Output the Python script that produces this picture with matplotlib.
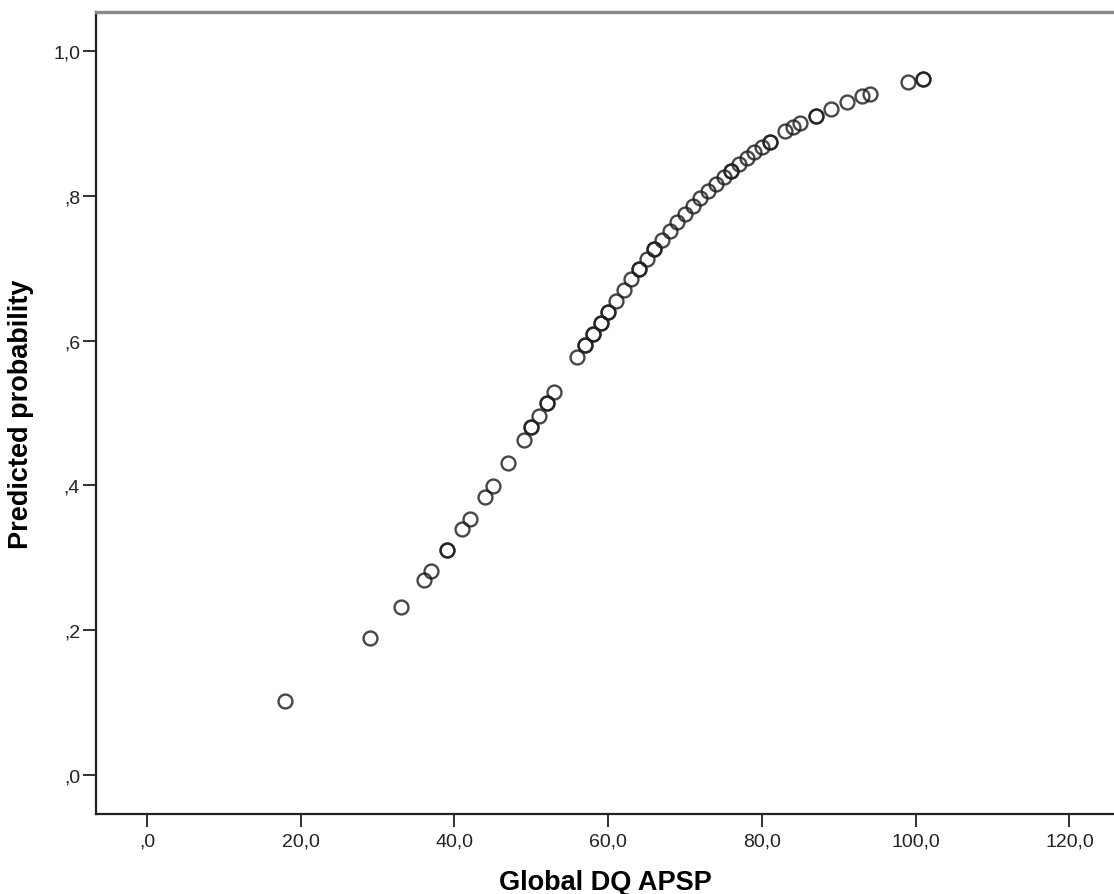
import numpy as np
import matplotlib
matplotlib.use("Agg")
import matplotlib.pyplot as plt
from matplotlib.ticker import FuncFormatter

plt.rcParams['font.family'] = ['Liberation Sans', 'DejaVu Sans']

# Global DQ APSP vs predicted probability (repeated x = overlapping cases)
dq = [18, 29, 33, 36, 37, 39, 39, 41, 42, 44, 45, 47, 49, 50, 50, 51, 52, 52, 53,
      56, 57, 57, 58, 58, 59, 59, 60, 60, 61, 62, 63, 64, 64, 65, 66, 66, 67, 68,
      69, 70, 71, 72, 73, 74, 75, 76, 76, 77, 78, 79, 80, 81, 81, 83, 84, 85,
      87, 87, 89, 91, 93, 94, 99, 101, 101]
prob = [0.102, 0.189, 0.232, 0.269, 0.282, 0.311, 0.311, 0.340, 0.354, 0.384, 0.399,
        0.431, 0.463, 0.481, 0.481, 0.496, 0.514, 0.514, 0.529,
        0.577, 0.594, 0.594, 0.609, 0.609, 0.624, 0.624, 0.640, 0.640, 0.655, 0.670,
        0.685, 0.699, 0.699, 0.713, 0.727, 0.727, 0.739, 0.751,
        0.764, 0.775, 0.786, 0.797, 0.807, 0.817, 0.826, 0.835, 0.835, 0.844, 0.852,
        0.860, 0.868, 0.875, 0.875, 0.889, 0.895, 0.901,
        0.911, 0.911, 0.920, 0.930, 0.938, 0.941, 0.957, 0.962, 0.962]

xticks = [0, 20, 40, 60, 80, 100, 120]
yticks = [0.0, 0.2, 0.4, 0.6, 0.8, 1.0]


def spss_fmt(v, pos):
    s = "%.1f" % v
    s = s.replace(".", ",")
    if s.startswith("0,"):
        s = s[1:]
    return s


fig = plt.figure(figsize=(11.14, 8.95), dpi=100)
ax = fig.add_axes([96 / 1114, 80 / 895, 1 - 96 / 1114, 802 / 895])

ax.plot(dq, prob, linestyle='none', marker='o', markersize=10,
        markerfacecolor='none', markeredgecolor='#1e1e1e', markeredgewidth=1.7,
        alpha=0.82, clip_on=False)

ax.set_xlim(-6.64, 125.8)
ax.set_ylim(-0.054, 1.054)
ax.set_xticks(xticks)
ax.set_yticks(yticks)
ax.xaxis.set_major_formatter(FuncFormatter(spss_fmt))
ax.yaxis.set_major_formatter(FuncFormatter(spss_fmt))

ax.tick_params(axis='both', length=9.5, width=1.3, color='#222222',
               labelsize=14, labelcolor='#222222')
ax.tick_params(axis='x', pad=4)
ax.tick_params(axis='y', pad=2)

ax.spines['right'].set_visible(False)
ax.spines['left'].set_color('#222222')
ax.spines['left'].set_linewidth(1.6)
ax.spines['bottom'].set_color('#222222')
ax.spines['bottom'].set_linewidth(1.6)
ax.spines['top'].set_color('#888888')
ax.spines['top'].set_linewidth(2.4)

ax.set_xlabel('Global DQ APSP', fontsize=19.5, fontweight='bold', labelpad=14)
ax.set_ylabel('Predicted probability', fontsize=19.5, fontweight='bold', labelpad=14)

fig.savefig('out.png', dpi=100)
